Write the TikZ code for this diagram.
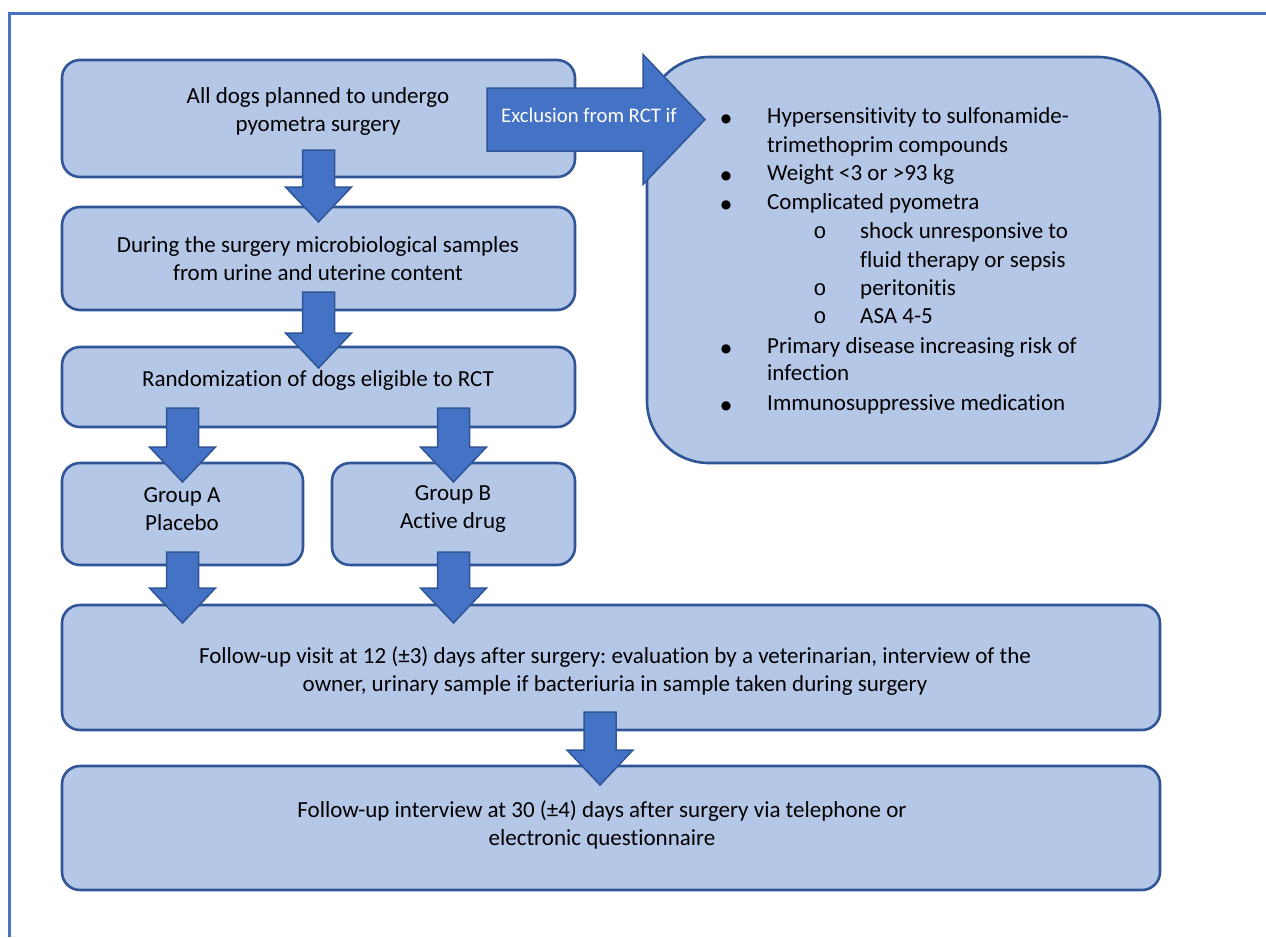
\documentclass[tikz,border=0pt]{standalone}
\usepackage{fontspec}
\setmainfont[Ligatures={NoCommon}]{Carlito}
\newfontfamily\bulletfont{DejaVu Sans}
\newfontfamily\subbulletfont{Liberation Mono}
\usetikzlibrary{calc}
\frenchspacing
\definecolor{boxfill}{HTML}{B4C7E7}
\definecolor{boxline}{HTML}{2F5597}
\definecolor{arrowfill}{HTML}{4472C4}
\definecolor{frameline}{HTML}{4472C4}
\tikzset{
  box/.style={draw=boxline, line width=2.6pt, fill=boxfill, rounded corners=18pt,
    rectangle, anchor=north west, inner sep=0pt, outer sep=0pt},
  txt/.style={font=\fontsize{23}{28}\selectfont, align=center, inner sep=0pt},
  itemtxt/.style={font=\fontsize{23}{28}\selectfont, anchor=base west, inner sep=0pt},
  bul/.style={font=\bulletfont\fontsize{12}{14}\selectfont, anchor=base, inner sep=0pt},
  subbul/.style={font=\subbulletfont\fontsize{22}{24}\selectfont, anchor=base, inner sep=0pt},
  blockarrow/.style={draw=boxline, line width=1.5pt, fill=arrowfill, line join=miter},
  frame/.style={draw=frameline, line width=3pt},
}
\newcommand\blockdown[2]{%
  \draw[blockarrow] let \p1=(#1), \p2=(#2) in
    (\x1-16pt,\y1) -- (\x1+16pt,\y1) -- (\x1+16pt,\y2+35pt) -- (\x1+33pt,\y2+35pt)
    -- (\x1,\y2) -- (\x1-33pt,\y2+35pt) -- (\x1-16pt,\y2+35pt) -- cycle;}
\begin{document}
\begin{tikzpicture}[x=1pt,y=-1pt]
\useasboundingbox (0,0) rectangle (1266,937);
% frame
\draw[frame] (9,937) -- (9,13) -- (1266,13);
% boxes
\node[box, minimum width=513pt, minimum height=117pt] (b1) at (62,60) {};
\node[box, minimum width=513pt, minimum height=103pt] (b2) at (62,207) {};
\node[box, minimum width=513pt, minimum height=80pt] (b3) at (62,347) {};
\node[box, minimum width=241pt, minimum height=102pt] (bA) at (62,463) {};
\node[box, minimum width=243pt, minimum height=102pt] (bB) at (332,463) {};
\node[box, minimum width=1098pt, minimum height=125pt] (bF) at (62,605) {};
\node[box, minimum width=1098pt, minimum height=124pt] (bG) at (62,766) {};
\node[box, rounded corners=62pt, minimum width=513pt, minimum height=406pt] (bX) at (647,57) {};
% texts
\node[txt] (t1) at (318,111) {All dogs planned to undergo\\pyometra surgery};
\node[txt] (t2) at (318,259) {During the surgery microbiological samples\\from urine and uterine content};
\node[txt] (t3) at (318,380) {Randomization of dogs eligible to RCT};
\node[txt] (tA) at (182,509) {Group A\\Placebo};
\node[txt] (tB) at (453,509) {Group B\\Active drug};
\node[txt] (tF) at (615,671) {Follow-up visit at 12 (±3) days after surgery: evaluation by a veterinarian, interview of the\\owner, urinary sample if bacteriuria in sample taken during surgery};
\node[txt] (tG) at (602,825) {Follow-up interview at 30 (±4) days after surgery via telephone or\\electronic questionnaire};
% exclusion list
\node[bul] (p1) at (726,122) {●};
\node[itemtxt] (l1a) at (767,123) {Hypersensitivity to sulfonamide-};
\node[itemtxt] (l1b) at (767,152) {trimethoprim compounds};
\node[bul] (p2) at (726,179) {●};
\node[itemtxt] (l2) at (767,180) {Weight <3 or >93 kg};
\node[bul] (p3) at (726,208) {●};
\node[itemtxt] (l3) at (767,209) {Complicated pyometra};
\node[subbul] (s1) at (820,238) {o};
\node[itemtxt] (l4a) at (860,238) {shock unresponsive to};
\node[itemtxt] (l4b) at (860,267) {fluid therapy or sepsis};
\node[subbul] (s2) at (820,295) {o};
\node[itemtxt] (l5) at (860,295) {peritonitis};
\node[subbul] (s3) at (820,323) {o};
\node[itemtxt] (l6) at (860,323) {ASA 4-5};
\node[bul] (p4) at (726,352) {●};
\node[itemtxt] (l7a) at (767,353) {Primary disease increasing risk of};
\node[itemtxt] (l7b) at (767,380) {infection};
\node[bul] (p5) at (726,409) {●};
\node[itemtxt] (l8) at (767,410) {Immunosuppressive medication};
% block arrow coordinates
\coordinate (a1s) at ($(b1.south)+(0,-27)$);
\coordinate (a1e) at ($(b2.north)+(0,15)$);
\coordinate (a2s) at ($(b2.south)+(0,-18)$);
\coordinate (a2e) at ($(b3.north)+(0,21)$);
\coordinate (a3s) at ($(bA.north)+(0,-55)$);
\coordinate (a3e) at ($(bA.north)+(0,19)$);
\coordinate (a4s) at ($(bB.north)+(0,-55)$);
\coordinate (a4e) at ($(bB.north)+(0,19)$);
\coordinate (a5s) at ($(bA.south)+(0,-13)$);
\coordinate (a5e) at ($(bA.south)+(0,58)$);
\coordinate (a6s) at ($(bB.south)+(0,-13)$);
\coordinate (a6e) at ($(bB.south)+(0,58)$);
\coordinate (a7s) at ($(bF.south)+(-11,-18)$);
\coordinate (a7e) at ($(bG.north)+(-11,19)$);
\blockdown{a1s}{a1e}
\blockdown{a2s}{a2e}
\blockdown{a3s}{a3e}
\blockdown{a4s}{a4e}
\blockdown{a5s}{a5e}
\blockdown{a6s}{a6e}
\blockdown{a7s}{a7e}
% exclusion arrow
\coordinate (xs) at ($(b1.east)+(-88,1)$);
\coordinate (xe) at ($(bX.west)+(58,-140)$);
\draw[blockarrow] let \p1=(xs), \p2=(xe) in
  (\x1,\y1+31.5pt) -- (\x2-62pt,\y1+31.5pt) -- (\x2-62pt,\y1+65pt) -- (\x2,\y1)
  -- (\x2-62pt,\y1-65pt) -- (\x2-62pt,\y1-31.5pt) -- (\x1,\y1-31.5pt) -- cycle;
\node[txt, text=white, font=\fontsize{20.7}{24}\selectfont] (xl) at (589,115) {Exclusion from RCT if};
\end{tikzpicture}
\end{document}
